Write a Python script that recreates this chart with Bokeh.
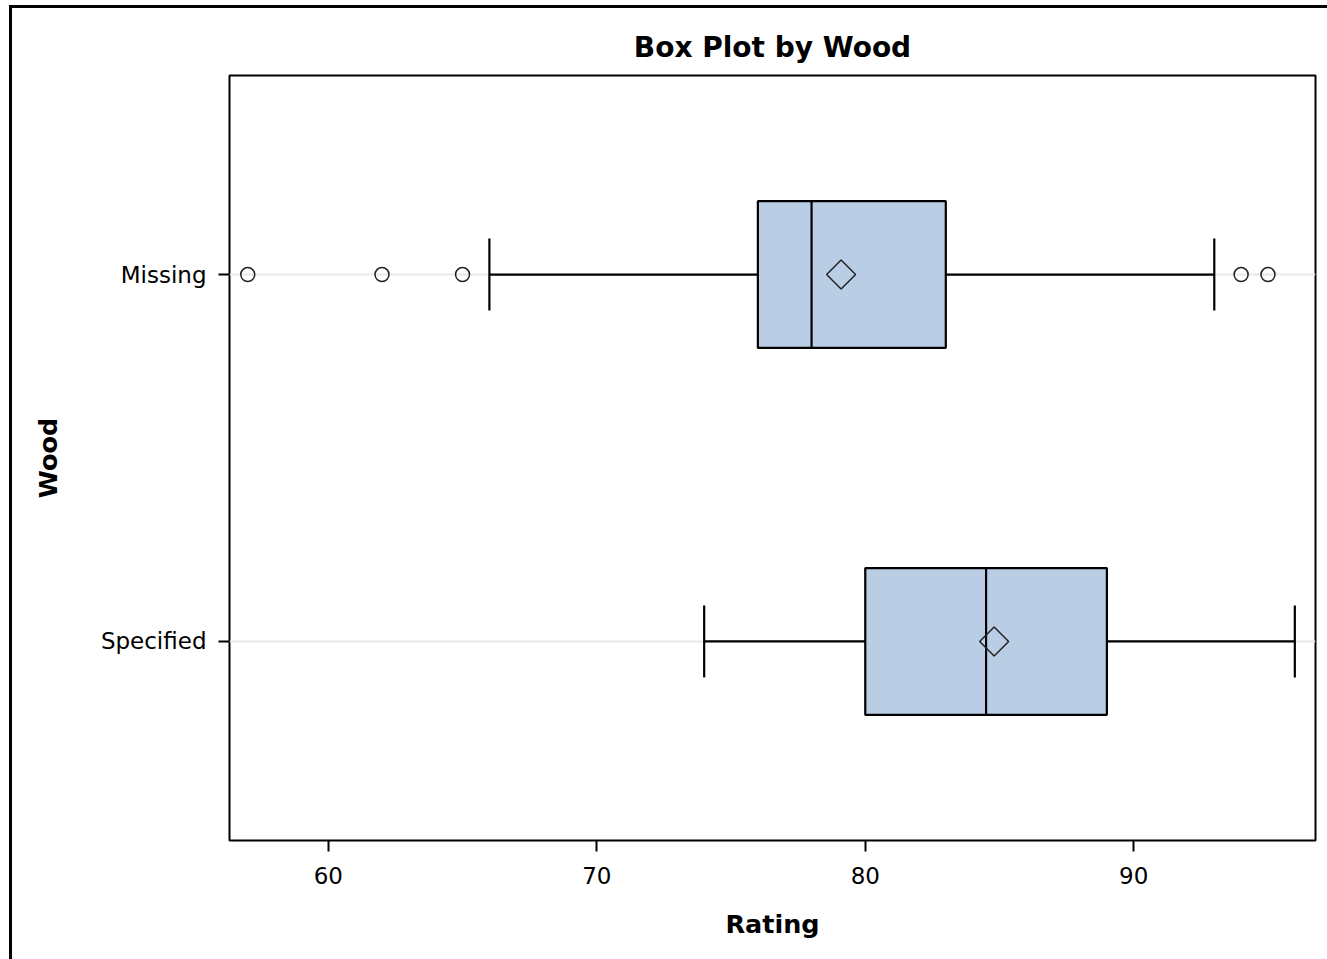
import math
from bokeh.plotting import figure
from bokeh.models import FactorRange, Range1d, ColumnDataSource, FixedTicker
from bokeh.embed import file_html
from bokeh.resources import INLINE

# ---- data ----
categories = ["Missing", "Specified"]
q1 = [76, 80]
median = [78, 84.5]
q3 = [83, 89]
whisker_low = [66, 74]
whisker_high = [93, 96]
mean = [79.1, 84.8]
outlier_cat = ["Missing", "Missing", "Missing", "Missing", "Missing"]
outlier_val = [57, 62, 65, 94, 95]
x_ticks = [60, 70, 80, 90]

FONT = "DejaVu Sans"
BOX_HALF = 0.2
CAP_HALF = 0.098

p = figure(
    width=1327, height=959,
    x_range=Range1d(56.32, 96.77),
    y_range=FactorRange(factors=list(reversed(categories)),
                        range_padding=0.0425, range_padding_units="absolute"),
    output_backend="svg", toolbar_location=None,
    min_border_left=229, min_border_right=12,
    min_border_top=75, min_border_bottom=119,
    title="Box Plot by Wood",
)
p.styles = {"box-shadow": "inset 9px 0 0 0 white, inset 0 5px 0 0 white, "
                          "inset 12px 0 0 0 black, inset 0 8px 0 0 black"}
p.border_fill_color = None
p.background_fill_color = "white"
p.outline_line_color = "black"
p.outline_line_width = 2

p.title.align = "center"
p.title.text_font = FONT
p.title.text_font_size = "28px"
p.title.text_font_style = "bold"
p.title.text_color = "black"
p.title.standoff = 23

src = ColumnDataSource(dict(
    cat=categories, q1=q1, q3=q3, med=median, lo=whisker_low, hi=whisker_high, mean=mean,
    cap_lo0=[(c, -CAP_HALF) for c in categories],
    cap_lo1=[(c, CAP_HALF) for c in categories],
    box0=[(c, -BOX_HALF) for c in categories],
    box1=[(c, BOX_HALF) for c in categories],
))

LW = 2.2
# whiskers
p.segment(x0="lo", y0="cat", x1="q1", y1="cat", source=src, line_color="black", line_width=LW)
p.segment(x0="q3", y0="cat", x1="hi", y1="cat", source=src, line_color="black", line_width=LW)
# caps
p.segment(x0="lo", y0="cap_lo0", x1="lo", y1="cap_lo1", source=src, line_color="black", line_width=LW)
p.segment(x0="hi", y0="cap_lo0", x1="hi", y1="cap_lo1", source=src, line_color="black", line_width=LW)
# boxes
p.hbar(y="cat", left="q1", right="q3", height=2 * BOX_HALF, source=src,
       fill_color="#b9cde5", line_color="black", line_width=LW)
# median
p.segment(x0="med", y0="box0", x1="med", y1="box1", source=src, line_color="black", line_width=LW)
# mean
p.scatter(x="mean", y="cat", source=src, marker="square", size=20.5, angle=math.pi / 4,
          fill_color=None, line_color="#222222", line_width=1.5)
# outliers
p.scatter(x=outlier_val, y=outlier_cat, marker="circle", size=14,
          fill_color=None, line_color="#222222", line_width=1.5)

# axes
p.xaxis.ticker = FixedTicker(ticks=x_ticks)
p.xaxis.axis_label = "Rating"
p.yaxis.axis_label = "Wood"
for ax in (p.xaxis[0], p.yaxis[0]):
    ax.axis_line_color = None
    ax.major_tick_line_color = "black"
    ax.major_tick_line_width = 2
    ax.major_tick_out = 11
    ax.major_tick_in = 0
    ax.minor_tick_line_color = None
    ax.major_label_text_font = FONT
    ax.major_label_text_font_size = "23px"
    ax.major_label_text_color = "black"
    ax.major_label_standoff = 12
    ax.axis_label_text_font = FONT
    ax.axis_label_text_font_size = "25.5px"
    ax.axis_label_text_font_style = "bold"
    ax.axis_label_text_color = "black"
p.xaxis.major_label_standoff = 15
p.xaxis.axis_label_standoff = 22
p.yaxis.axis_label_standoff = 35
p.yaxis.major_label_orientation = "horizontal"

p.xgrid.grid_line_color = None
p.ygrid.grid_line_color = "#e8e8e8"
p.ygrid.grid_line_width = 2

open("out.html", "w").write(file_html(p, INLINE))
